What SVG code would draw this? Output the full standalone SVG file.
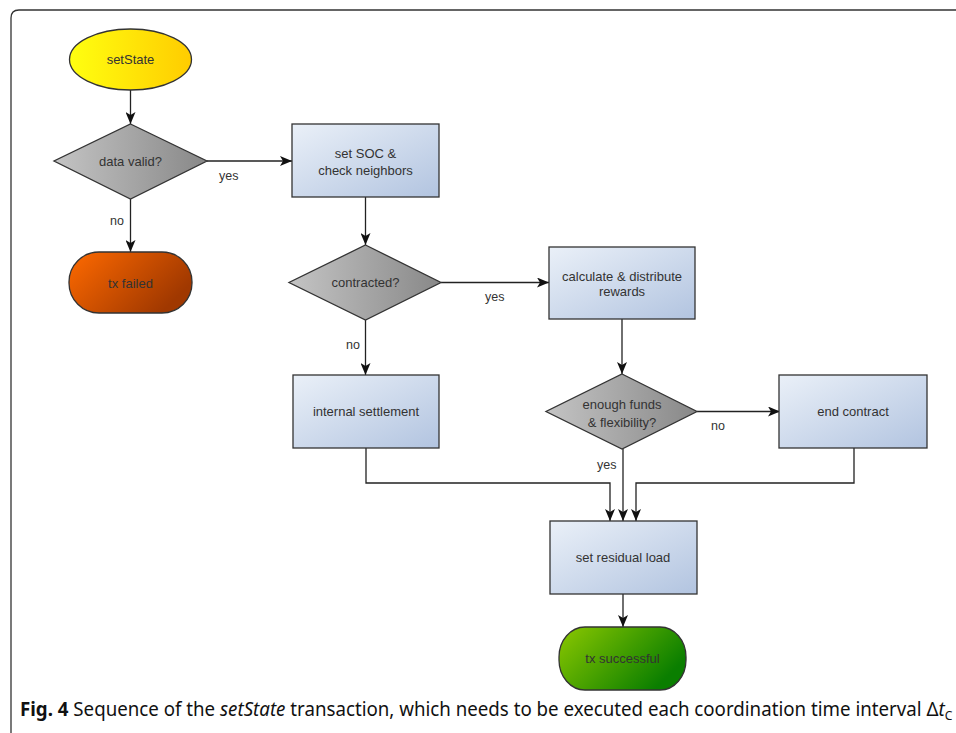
<svg xmlns="http://www.w3.org/2000/svg" width="956" height="733" viewBox="0 0 956 733">
<style>
.lbl{font-family:"Liberation Sans",Arial,sans-serif;font-size:13px;fill:#333;text-anchor:middle}
.edge{font-family:"Liberation Sans",Arial,sans-serif;font-size:12.5px;fill:#333}
.box{fill:url(#gBlue);stroke:#333;stroke-width:1.3}
.dia{fill:url(#gGray);stroke:#333;stroke-width:1.3}
.con{fill:none;stroke:#222;stroke-width:1.3;marker-end:url(#arr)}
.cap{font-family:"Noto Sans","Liberation Sans",sans-serif;font-size:20px;fill:#111}
</style>
<defs>
<linearGradient id="gBlue" x1="0" y1="0" x2="1" y2="1"><stop offset="0" stop-color="#eaf0f8"/><stop offset="1" stop-color="#b2c4e0"/></linearGradient>
<linearGradient id="gGray" x1="0" y1="0" x2="1" y2="0"><stop offset="0" stop-color="#c4c4c4"/><stop offset="1" stop-color="#888"/></linearGradient>
<linearGradient id="gYel" x1="0" y1="0" x2="1" y2="0"><stop offset="0" stop-color="#ffff10"/><stop offset="1" stop-color="#ffcc00"/></linearGradient>
<linearGradient id="gOr" x1="0" y1="0" x2="1" y2="0.5"><stop offset="0" stop-color="#ff6a00"/><stop offset="1" stop-color="#a03800"/></linearGradient>
<linearGradient id="gGr" x1="0" y1="0" x2="1" y2="0.5"><stop offset="0" stop-color="#8cc800"/><stop offset="1" stop-color="#0a7e00"/></linearGradient>
<marker id="arr" viewBox="0 0 12 10" refX="12" refY="5" markerWidth="12" markerHeight="10" markerUnits="userSpaceOnUse" orient="auto">
<path d="M0,0 L12,5 L0,10 L3,5 Z" fill="#111"/>
</marker>
</defs>
<rect width="956" height="733" fill="#fff"/>
<path d="M11,740 V18 Q11,10 19,10 H970" fill="none" stroke="#333" stroke-width="1.3"/>
<g id="connectors">
<path class="con" d="M130.5,90 V124"/>
<path class="con" d="M207,161 H292"/>
<path class="con" d="M130.5,199 V252"/>
<path class="con" d="M365.5,197 V245"/>
<path class="con" d="M441,282.5 H549"/>
<path class="con" d="M365.5,320 V375"/>
<path class="con" d="M622,319 V374"/>
<path class="con" d="M697,411.5 H780"/>
<path class="con" d="M366,448 V483 H610 V521"/>
<path class="con" d="M623,449 V521"/>
<path class="con" d="M854,448 V483 H636 V521"/>
<path class="con" d="M623,594 V627"/>
<text class="edge" x="219" y="180">yes</text>
<text class="edge" x="110" y="225">no</text>
<text class="edge" x="485" y="301">yes</text>
<text class="edge" x="346" y="349">no</text>
<text class="edge" x="711" y="430">no</text>
<text class="edge" x="597" y="469">yes</text>
</g>
<g id="setState"><ellipse cx="130.5" cy="59.5" rx="61" ry="30.5" fill="url(#gYel)" stroke="#333" stroke-width="1.3"/><text class="lbl" x="130.5" y="64">setState</text></g>
<g id="dataValid"><path class="dia" d="M130.5,124 L207,161 L130.5,199 L54,161 Z"/><text class="lbl" x="130.5" y="166">data valid?</text></g>
<g id="txFailed"><rect x="69" y="252" width="123" height="61" rx="30" fill="url(#gOr)" stroke="#333" stroke-width="1.3"/><text class="lbl" x="130.5" y="288">tx failed</text></g>
<g id="setSOC"><rect class="box" x="292" y="124" width="147" height="73"/><text class="lbl" x="365.5" y="158">set SOC &amp;</text><text class="lbl" x="365.5" y="175">check neighbors</text></g>
<g id="contracted"><path class="dia" d="M365.5,245 L441,282.5 L365.5,320 L289,282.5 Z"/><text class="lbl" x="365.5" y="287">contracted?</text></g>
<g id="calculate"><rect class="box" x="549" y="247" width="146" height="72"/><text class="lbl" x="622" y="281">calculate &amp; distribute</text><text class="lbl" x="622" y="296">rewards</text></g>
<g id="internal"><rect class="box" x="293" y="375" width="146" height="73"/><text class="lbl" x="366" y="416">internal settlement</text></g>
<g id="enough"><path class="dia" d="M622,374 L697,411.5 L622,449 L546,411.5 Z"/><text class="lbl" x="622" y="409">enough funds</text><text class="lbl" x="622" y="427">&amp; flexibility?</text></g>
<g id="endContract"><rect class="box" x="779" y="375" width="148" height="73"/><text class="lbl" x="853" y="416">end contract</text></g>
<g id="residual"><rect class="box" x="550" y="521" width="147" height="73"/><text class="lbl" x="623" y="562">set residual load</text></g>
<g id="txSuccess"><rect x="559" y="627" width="127" height="63" rx="26" ry="30" fill="url(#gGr)" stroke="#333" stroke-width="1.3"/><text class="lbl" x="622.5" y="663">tx successful</text></g>
<text class="cap" transform="translate(20,716) scale(0.935,1)"><tspan font-weight="bold">Fig. 4</tspan>  Sequence of the <tspan font-style="italic">setState</tspan> transaction, which needs to be executed each coordination time interval Δ<tspan font-style="italic">t</tspan><tspan font-size="13" dy="4">C</tspan></text>
</svg>
